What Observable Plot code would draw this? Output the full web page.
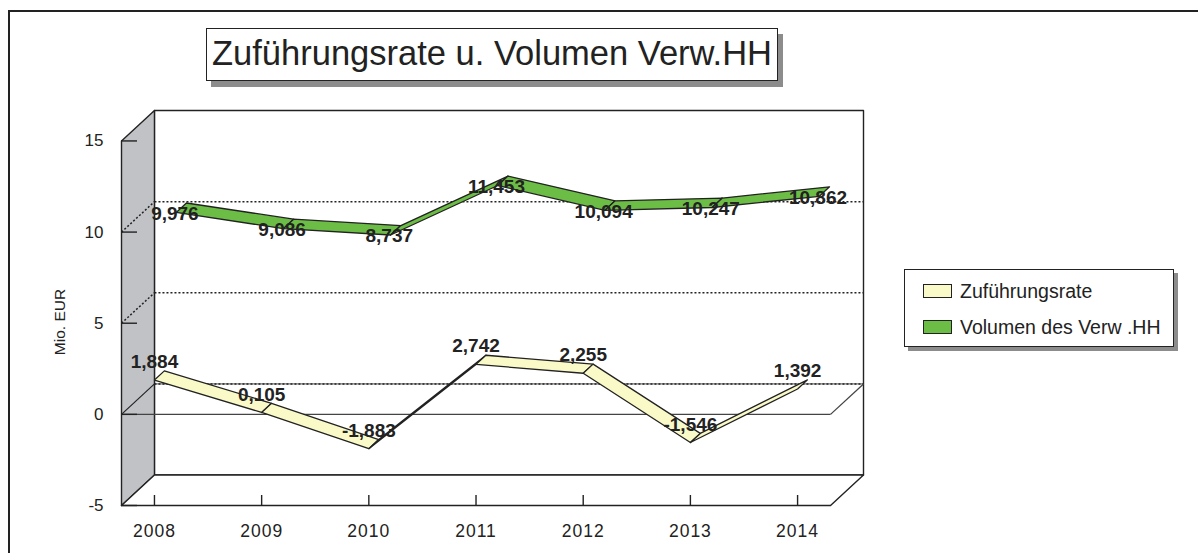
<!DOCTYPE html>
<html>
<head>
<meta charset="utf-8">
<script src="https://cdn.jsdelivr.net/npm/d3@7"></script>
<script src="https://cdn.jsdelivr.net/npm/@observablehq/plot@0.6"></script>
<style>
  html, body { margin: 0; padding: 0; background: #fff; }
  body { width: 1198px; height: 553px; position: relative; overflow: hidden; font-family: "Liberation Sans", Arial, sans-serif; color: #222; }
  #frame { position: absolute; left: 8px; top: 10px; width: 1300px; height: 700px; border-left: 2px solid #222; border-top: 2px solid #222; box-sizing: border-box; }
  #chart { position: absolute; left: 0; top: 0; }
  #title { position: absolute; left: 206px; top: 28px; width: 572px; height: 53px; box-sizing: border-box; border: 1.5px solid #222; background: #fff; box-shadow: 5px 6px 0 #8c8c8c; font-size: 34.5px; line-height: 49px; text-align: center; color: #222; white-space: nowrap; }
  #legend { position: absolute; left: 904px; top: 269px; width: 270px; height: 78px; box-sizing: border-box; border: 1.5px solid #222; background: #fff; box-shadow: 4px 4px 0 #8c8c8c; }
  .item { position: absolute; left: 18px; height: 20px; display: flex; align-items: center; font-size: 19.5px; color: #222; white-space: nowrap; }
  .sw { width: 29px; height: 14px; box-sizing: border-box; border: 1.5px solid #222; margin-right: 8px; }
  .xlab text { letter-spacing: 1px; }
</style>
</head>
<body>
<div id="frame"></div>
<div id="chart"></div>
<div id="title"></div>
<div id="legend"></div>
<script>
// ---- data ----
const years = ["2008", "2009", "2010", "2011", "2012", "2013", "2014"];
const zufuehrungsrate = [1.884, 0.105, -1.883, 2.742, 2.255, -1.546, 1.392];
const volumen = [9.976, 9.086, 8.737, 11.453, 10.094, 10.247, 10.862];
const seriesNames = ["Zuführungsrate", "Volumen des Verw .HH"];
const seriesColors = ["#fafac8", "#6cbd45"];
const yTicks = [-5, 0, 5, 10, 15];
const yGrid = [5, 10];
const titleText = "Zuführungsrate u. Volumen Verw.HH";
const yLabel = "Mio. EUR";

// ---- 3D projection (depth expressed in data units) ----
const DX = 0.3075;   // depth along x (category units)
const DY = 1.67;     // depth along y (value units)
const n = years.length;
const yMin = -5, yMax = 15;
const proj = (i, v, d) => ({x: i + d * DX, y: v + d * DY});
const depthRows = [[0.0, 0.3], [0.66, 0.97]];

const fmt = v => v.toFixed(3).replace(".", ",");

// ribbons: one closed quad per segment
function ribbon(vals, s) {
  const [d0, d1] = depthRows[s];
  const pts = [];
  for (let i = 0; i < vals.length - 1; i++) {
    const id = s + "-" + i;
    [[i, vals[i], d0], [i + 1, vals[i + 1], d0], [i + 1, vals[i + 1], d1], [i, vals[i], d1], [i, vals[i], d0]]
      .forEach(([a, v, d]) => pts.push({...proj(a, v, d), seg: id}));
  }
  return pts;
}
const rib0 = ribbon(zufuehrungsrate, 0);
const rib1 = ribbon(volumen, 1);

// walls
const xRight = (n - 1) + DX;  // front right edge
const side = [{x: -DX, y: yMin}, {x: -DX, y: yMax}, {x: 0, y: yMax + DY}, {x: 0, y: yMin + DY}, {x: -DX, y: yMin}];
const floor = [{x: -DX, y: yMin}, {x: 0, y: yMin + DY}, {x: xRight + DX, y: yMin + DY}, {x: xRight, y: yMin}, {x: -DX, y: yMin}];
const back = [{x: 0, y: yMin + DY}, {x: 0, y: yMax + DY}, {x: xRight + DX, y: yMax + DY}, {x: xRight + DX, y: yMin + DY}, {x: 0, y: yMin + DY}];

const labels0 = zufuehrungsrate.map((v, i) => ({...proj(i, v, 0), t: fmt(v)}));
const labels1 = volumen.map((v, i) => ({...proj(i, v, 0.62), t: fmt(v)}));

const idx = d3.range(n);

const chart = Plot.plot({
  width: 1198,
  height: 553,
  marginLeft: 121,
  marginRight: 335,
  marginTop: 110,
  marginBottom: 48,
  x: {type: "linear", domain: [-DX, xRight + DX], axis: null},
  y: {type: "linear", domain: [yMin, yMax + DY], axis: null},
  style: {background: "transparent", fontFamily: "'Liberation Sans', Arial, sans-serif", color: "#222", overflow: "visible"},
  marks: [
    Plot.line(back, {x: "x", y: "y", fill: "#fff", stroke: "#222", strokeWidth: 1.4}),
    Plot.line(side, {x: "x", y: "y", fill: "#c1c2c6", stroke: "#222", strokeWidth: 1.4}),
    Plot.line(floor, {x: "x", y: "y", fill: "#fff", stroke: "#222", strokeWidth: 1.4}),
    // gridlines on back wall and side wall
    Plot.link(yGrid.concat([0]), {x1: 0, x2: xRight + DX, y1: v => v + DY, y2: v => v + DY, stroke: "#222", strokeWidth: 1.5, strokeDasharray: "2,2"}),
    Plot.link(yGrid, {x1: -DX, x2: 0, y1: v => v, y2: v => v + DY, stroke: "#222", strokeWidth: 1.5, strokeDasharray: "2,2"}),
    // zero plane outline
    Plot.link([0], {x1: -DX, x2: 0, y1: 0, y2: DY, stroke: "#222", strokeWidth: 1.2}),
    Plot.link([0], {x1: 0, x2: xRight + DX, y1: DY, y2: DY, stroke: "#222", strokeWidth: 0.8}),
    Plot.link([0], {x1: -DX, x2: xRight, y1: 0, y2: 0, stroke: "#444", strokeWidth: 1.3}),
    Plot.link([0], {x1: xRight, x2: xRight + DX, y1: 0, y2: DY, stroke: "#444", strokeWidth: 1.3}),
    // y ticks on front axis
    Plot.ruleY(yTicks, {y: d => d, x1: -DX, x2: -DX, insetRight: -16, stroke: "#222", strokeWidth: 1.4}),
    Plot.text(yTicks, {x: -DX, y: d => d, text: d => String(d), textAnchor: "end", dx: -18, fontSize: 17, fill: "#222"}),
    // x ticks on floor front edge
    Plot.ruleX(idx, {x: d => d, y1: yMin, y2: yMin, insetTop: -10, stroke: "#222", strokeWidth: 1.4}),
    Plot.text(idx, {x: d => d, y: yMin, text: d => years[d], dy: 26, fontSize: 17.5, fill: "#222", className: "xlab"}),
    // y label
    Plot.text([yLabel], {frameAnchor: "left", textAnchor: "middle", text: d => d, rotate: -90, dx: -61, dy: 14, fontSize: 15.5, fill: "#222"}),
    // ribbons: back series first
    Plot.line(rib1, {x: "x", y: "y", z: "seg", fill: seriesColors[1], stroke: "#222", strokeWidth: 1.3, curve: "linear"}),
    Plot.line(rib0, {x: "x", y: "y", z: "seg", fill: seriesColors[0], stroke: "#222", strokeWidth: 1.3, curve: "linear"}),
    // data labels
    Plot.text(labels1, {x: "x", y: "y", text: "t", fontSize: 19, fontWeight: "bold", fill: "#222"}),
    Plot.text(labels0, {x: "x", y: "y", text: "t", dy: -18, fontSize: 19, fontWeight: "bold", fill: "#222"})
  ]
});
document.getElementById("chart").appendChild(chart);

document.getElementById("title").textContent = titleText;
const legend = document.getElementById("legend");
seriesNames.forEach((name, k) => {
  const it = document.createElement("div");
  it.className = "item";
  it.style.top = (k === 0 ? 11 : 47) + "px";
  const sw = document.createElement("span");
  sw.className = "sw";
  sw.style.background = seriesColors[k];
  it.appendChild(sw);
  it.appendChild(document.createTextNode(name));
  legend.appendChild(it);
});
</script>
</body>
</html>
